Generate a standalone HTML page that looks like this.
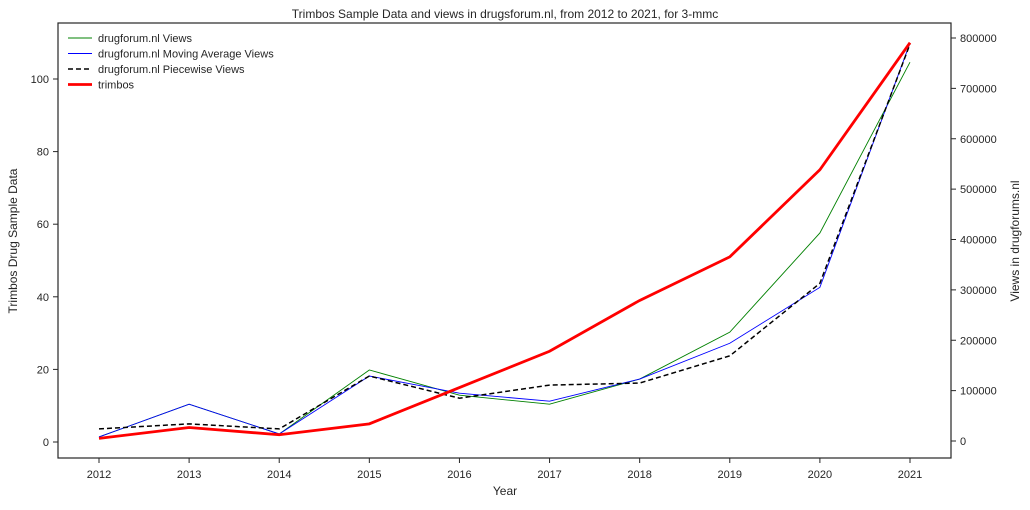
<!DOCTYPE html>
<html><head><meta charset="utf-8"><style>
body{margin:0;background:#fff;font-family:"Liberation Sans",sans-serif}
svg text{font-family:"Liberation Sans",sans-serif;fill:#262626}
</style></head><body>
<svg id="chart" width="1030" height="505"></svg>
<script>
const years=[2012,2013,2014,2015,2016,2017,2018,2019,2020,2021];
const trimbos=[1,4,2,5,15,25,39,51,75,110];
const views=[8000,73000,14000,141000,91000,73000,123000,216000,413000,752000];
const movingAvg=[8000,73000,14000,129000,95000,79000,123000,194000,305000,790000];
const piecewise=[24000,34000,24000,129000,85000,111000,115000,169000,313000,788000];
const leftTicks=[0,20,40,60,80,100];
const rightTicks=[0,100000,200000,300000,400000,500000,600000,700000,800000];
const NS="http://www.w3.org/2000/svg";
const svg=document.getElementById('chart');
const L=58,R=951,T=23,B=458;
const x=v=>99+(v-2012)*(910-99)/9;
const yl=v=>442-v*(442-79)/100;
const yr=v=>441-v*(441-38)/800000;
function el(t,a,p){const e=document.createElementNS(NS,t);for(const k in a)e.setAttribute(k,a[k]);(p||svg).appendChild(e);return e;}
const frame=el('rect',{x:L,y:T,width:R-L,height:B-T,fill:'none',stroke:'#262626','stroke-width':1.2});


years.forEach(yv=>{
 const t=el('line',{x1:x(yv),x2:x(yv),y1:B,y2:B+5,stroke:'#262626'});
 
 const tx=el('text',{x:x(yv),y:B+20,'text-anchor':'middle','font-size':11});tx.textContent=yv;
 
});
leftTicks.forEach(v=>{
 const t=el('line',{x1:L-5,x2:L,y1:yl(v),y2:yl(v),stroke:'#262626'});
 
 const tx=el('text',{x:L-9,y:yl(v)+4,'text-anchor':'end','font-size':11});tx.textContent=v;
 
});
rightTicks.forEach(v=>{
 const t=el('line',{x1:R,x2:R+5,y1:yr(v),y2:yr(v),stroke:'#262626'});
 
 const tx=el('text',{x:R+9,y:yr(v)+4,'font-size':11});tx.textContent=v;
 
});
function line(vals,f,c,w,dash,name){
 const p=el('polyline',{points:vals.map((v,i)=>x(years[i])+','+f(v)).join(' '),fill:'none',stroke:c,'stroke-width':w,'stroke-dasharray':dash||'none'});
 
}
line(views,yr,'green',0.9,null,'views-line');
line(movingAvg,yr,'blue',0.9,null,'moving-average-line');
line(piecewise,yr,'black',1.5,'5,3','piecewise-line');
line(trimbos,yl,'red',2.8,null,'trimbos-line');
const title=el('text',{x:505,y:18,'text-anchor':'middle','font-size':12});title.textContent='Trimbos Sample Data and views in drugsforum.nl, from 2012 to 2021, for 3-mmc';

const xt=el('text',{x:505,y:495,'text-anchor':'middle','font-size':12});xt.textContent='Year';

const ylt=el('text',{x:17,y:241,'text-anchor':'middle','font-size':12,transform:'rotate(-90 17 241)'});ylt.textContent='Trimbos Drug Sample Data';

const yrt=el('text',{x:1019,y:241,'text-anchor':'middle','font-size':12,transform:'rotate(-90 1019 241)'});yrt.textContent='Views in drugforums.nl';

const leg=[['drugforum.nl Views','green',0.9,null],['drugforum.nl Moving Average Views','blue',0.9,null],['drugforum.nl Piecewise Views','black',1.5,'5,3'],['trimbos','red',2.8,null]];
leg.forEach((l,i)=>{
 const yy=38+i*15.5;
 const s=el('line',{x1:68,x2:92,y1:yy,y2:yy,stroke:l[1],'stroke-width':l[2],'stroke-dasharray':l[3]||'none'});
 
 const t=el('text',{x:98,y:yy+4,'font-size':11});t.textContent=l[0];
 
});
</script>
</body></html>
